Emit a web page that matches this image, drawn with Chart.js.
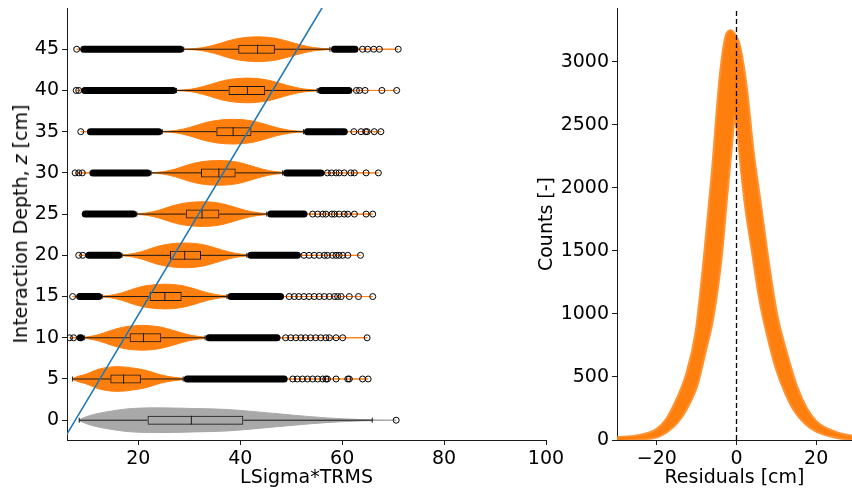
<!DOCTYPE html>
<html lang="en">
<head>
<meta charset="UTF-8" />
<title>LSigma*TRMS vs interaction depth, and residuals</title>
<script src="https://cdn.jsdelivr.net/npm/chart.js"></script>
<style>
  body { margin: 0; background: #fff; width: 852px; height: 490px; overflow: hidden; position: relative; font-family: 'DejaVu Sans', sans-serif; }
  .panel { position: absolute; top: 0; height: 490px; }
  #leftPanel { left: 0; width: 600px; }
  #rightPanel { left: 534px; width: 318px; }
  #depthTitle {
    position: absolute; left: 20px; top: 224px;
    transform: translate(-50%, -50%) rotate(-90deg);
    font-size: 19px; white-space: nowrap; color: #000;
  }
</style>
</head>
<body>
<div class="panel" id="leftPanel"><canvas id="violinChart"></canvas></div>
<div class="panel" id="rightPanel"><canvas id="residualChart"></canvas></div>
<div id="depthTitle">Interaction Depth, <i>z</i> [cm]</div>

<script>
// ---- left panel: box stats per depth (last row = all depths, grey) ----
const boxDepths = [45, 40, 35, 30, 25, 20, 15, 10, 5, 0];
const q1      = [39.6, 37.7, 35.3, 32.3, 29.3, 26.2, 22.2, 18.3, 14.5, 21.8];
const medians = [43.4, 41.4, 38.6, 35.8, 32.5, 29.1, 25.2, 21.0, 17.1, 30.4];
const q3      = [46.8, 44.9, 42.2, 39.1, 35.9, 32.3, 28.5, 24.5, 20.5, 40.6];
const whiskLo = [28.9, 27.5, 24.7, 22.5, 19.7, 16.8, 12.9, 9.4, 7.1, 8.4];
const whiskHi = [57.6, 55.1, 52.4, 48.3, 45.2, 41.3, 37.4, 33.1, 28.8, 65.9];

// orange violins (depths 45..5): kde half-widths sampled around the peak
const violinPeaks = [43.4, 41.4, 38.6, 35.8, 32.5, 29.1, 25.2, 20.8, 15.8];
const violinMin   = [7.9, 7.8, 8.7, 7.6, 8.9, 8.3, 7.1, 6.5, 7.1];
const violinMax   = [71.0, 70.7, 67.6, 67.1, 66.0, 63.6, 66.0, 64.9, 65.1];
const violinOffsets = [-14, -11, -8.5, -6, -3.5, 0, 3.5, 6, 8.5, 11, 14];
const violinWidths = [
  [0.03, 0.17, 0.50, 0.98, 1.33, 1.5, 1.33, 0.95, 0.52, 0.20, 0.05],
  [0.03, 0.16, 0.50, 0.97, 1.33, 1.5, 1.32, 0.94, 0.50, 0.19, 0.05],
  [0.03, 0.17, 0.52, 1.00, 1.34, 1.5, 1.33, 0.95, 0.50, 0.18, 0.04],
  [0.02, 0.14, 0.48, 0.98, 1.34, 1.5, 1.32, 0.92, 0.46, 0.16, 0.04],
  [0.02, 0.13, 0.46, 0.97, 1.33, 1.5, 1.32, 0.92, 0.46, 0.16, 0.04],
  [0.02, 0.12, 0.44, 0.96, 1.33, 1.5, 1.31, 0.90, 0.44, 0.15, 0.04],
  [0.02, 0.12, 0.44, 0.96, 1.33, 1.5, 1.31, 0.90, 0.44, 0.15, 0.04],
  [0.02, 0.10, 0.40, 0.92, 1.32, 1.5, 1.30, 0.90, 0.45, 0.16, 0.04],
  [0.00, 0.00, 0.10, 0.60, 1.20, 1.5, 1.30, 1.00, 0.52, 0.22, 0.06]
];

// grey violin (all depths, z = 0)
const grayX = [8.3, 9.5, 11.2, 14.5, 17.8, 23.7, 30.9, 37.5, 44.0, 50.6, 57.1, 63.7, 70.6];
const grayW = [0.02, 0.35, 0.69, 1.09, 1.37, 1.5, 1.42, 1.3, 0.97, 0.6, 0.28, 0.08, 0];

// outliers: packed runs [from, to] and single circles, per orange depth
const denseLeft = [[8.6, 28.9], [8.8, 27.5], [9.9, 24.7], [10.4, 22.5], [8.9, 19.7], [9.6, 16.8], [7.8, 12.9], [7.9, 9.4], null];
const denseRight = [[57.8, 63.2], [55.2, 62.0], [52.5, 61.1], [48.4, 56.5], [45.3, 53.2], [41.4, 51.9], [37.5, 48.6], [33.2, 47.9], [28.9, 49.3]];
const sparseFliers = [
  [7.9, 64.0, 65.0, 66.2, 67.3, 71.0],
  [7.8, 8.3, 62.8, 63.4, 64.5, 67.8, 70.7],
  [8.7, 62.3, 63.7, 64.6, 64.9, 66.3, 67.6],
  [7.6, 8.3, 9.0, 57.1, 57.9, 58.8, 59.4, 60.4, 61.7, 62.4, 64.7, 67.1],
  [54.2, 55.2, 56.2, 56.8, 58.0, 58.5, 59.4, 60.4, 61.1, 62.4, 64.7, 66.0],
  [8.3, 9.1, 52.5, 53.5, 54.5, 55.5, 56.5, 57.1, 58.1, 58.8, 59.4, 60.1, 61.1, 63.6],
  [7.1, 49.6, 50.6, 51.5, 52.5, 53.5, 54.5, 55.5, 56.5, 57.5, 58.5, 59.1, 59.8, 61.4, 63.2, 66.0],
  [6.5, 7.3, 48.9, 49.9, 50.9, 51.9, 52.8, 53.8, 54.8, 55.8, 56.8, 57.5, 58.8, 60.1, 64.9],
  [50.3, 51.2, 52.2, 53.2, 54.2, 55.2, 56.2, 56.8, 57.1, 58.8, 61.1, 61.4, 64.0, 65.1]
];
const grayFliers = [70.6];

// fitted line
const fitX = [5, 57];
const fitY = [-2.7, 51.0];

const depthTicks = [0, 5, 10, 15, 20, 25, 30, 35, 40, 45];
const lsigmaTicks = [20, 40, 60, 80, 100];

// ---- right panel: envelope of the residual histograms ----
const residualBins = [-30, -25, -20, -17.5, -15, -12.5, -10, -8, -6, -4, -2.5, -1.5, -0.5, 0.5, 1.5, 2.5, 4, 6, 8, 10, 12.5, 15, 17.5, 20, 25, 30];
const countsUpper = [15, 28, 80, 160, 310, 510, 860, 1430, 2100, 2870, 3200, 3240, 3210, 3140, 2980, 2750, 2300, 1840, 1380, 990, 680, 420, 245, 140, 55, 20];
const countsLower = [5, 12, 30, 70, 140, 260, 440, 700, 980, 1440, 1960, 2300, 2580, 2420, 2100, 1830, 1520, 1110, 820, 580, 370, 220, 130, 75, 25, 8];
const residualTicks = [-20, 0, 20];
const countTicks = [0, 500, 1000, 1500, 2000, 2500, 3000];

const ORANGE = '#ff7f0e';
const GRAY = '#a9a9a9';
const BLUE = '#1f77b4';
const INK = '#1a1a1a';
const FONT = 'DejaVu Sans';
const FONT_SIZE = 19;

Chart.defaults.font.family = FONT;
Chart.defaults.color = '#000';

// ---------- left chart datasets ----------
const leftSets = [];

function addViolin(z, xs, ws, color) {
  leftSets.push({
    type: 'line', order: 10,
    data: xs.map((x, i) => ({x, y: z + ws[i]})),
    borderColor: color, backgroundColor: color, borderWidth: 1,
    fill: '+1', pointRadius: 0, cubicInterpolationMode: 'monotone'
  });
  leftSets.push({
    type: 'line', order: 10,
    data: xs.map((x, i) => ({x, y: z - ws[i]})),
    borderColor: color, borderWidth: 1,
    fill: false, pointRadius: 0, cubicInterpolationMode: 'monotone'
  });
}

violinPeaks.forEach((peak, i) => {
  const z = boxDepths[i];
  const xs = [violinMin[i]], ws = [0];
  violinOffsets.forEach((o, k) => {
    const x = peak + o;
    if (x > violinMin[i] + 0.1 && x < violinMax[i]) { xs.push(x); ws.push(violinWidths[i][k]); }
  });
  xs.push(violinMax[i]); ws.push(0);
  addViolin(z, xs, ws, ORANGE);
});
addViolin(0, grayX, grayW, GRAY);

// whiskers: two segments per depth, gaps in between
const whiskerPts = [];
boxDepths.forEach((z, i) => {
  whiskerPts.push({x: whiskLo[i], y: z}, {x: q1[i], y: z}, {x: q1[i], y: null},
                  {x: q3[i], y: z}, {x: whiskHi[i], y: z}, {x: whiskHi[i], y: null});
});
leftSets.push({
  type: 'line', order: 9, data: whiskerPts, spanGaps: false,
  borderColor: INK, borderWidth: 1, pointRadius: 0, fill: false
});

// boxes
leftSets.push({
  type: 'bar', order: 8, indexAxis: 'y', grouped: false, maxBarThickness: 9,
  data: boxDepths.map((z, i) => ({y: z, x: [q1[i], q3[i]]})),
  backgroundColor: 'rgba(0,0,0,0)', borderColor: INK, borderWidth: 1, borderSkipped: false
});

// medians and whisker caps
leftSets.push({
  type: 'scatter', order: 7,
  data: boxDepths.map((z, i) => ({x: medians[i], y: z})),
  pointStyle: 'line', pointRotation: 90, pointRadius: 4.5,
  pointBorderColor: INK, pointBorderWidth: 1
});
const capPts = [];
boxDepths.forEach((z, i) => capPts.push({x: whiskLo[i], y: z}, {x: whiskHi[i], y: z}));
leftSets.push({
  type: 'scatter', order: 7, data: capPts,
  pointStyle: 'line', pointRotation: 90, pointRadius: 2.5,
  pointBorderColor: INK, pointBorderWidth: 1
});

// packed outlier runs
const denseData = [];
boxDepths.slice(0, 9).forEach((z, i) => {
  if (denseLeft[i]) denseData.push({y: z, x: denseLeft[i]});
  if (denseRight[i]) denseData.push({y: z, x: denseRight[i]});
});
leftSets.push({
  type: 'bar', order: 6, indexAxis: 'y', grouped: false, maxBarThickness: 7,
  data: denseData, backgroundColor: '#000', borderWidth: 0,
  borderRadius: 3.5, borderSkipped: false
});

// single outliers
const flierPts = [];
sparseFliers.forEach((row, i) => row.forEach(x => flierPts.push({x, y: boxDepths[i]})));
grayFliers.forEach(x => flierPts.push({x, y: 0}));
leftSets.push({
  type: 'scatter', order: 6, data: flierPts,
  pointStyle: 'circle', pointRadius: 3, pointBorderWidth: 1,
  pointBorderColor: '#000', pointBackgroundColor: 'rgba(0,0,0,0)'
});

// fit line on top
leftSets.push({
  type: 'line', order: 0,
  data: fitX.map((x, i) => ({x, y: fitY[i]})),
  borderColor: BLUE, borderWidth: 1.6, pointRadius: 0, fill: false
});

function axisStyle(ticks, fmt) {
  return {
    type: 'linear',
    offset: false,
    afterBuildTicks: s => { s.ticks = ticks.map(v => ({value: v})); },
    grid: {drawOnChartArea: false, offset: false, tickLength: 5, color: INK, tickWidth: 1},
    border: {color: INK, width: 1},
    ticks: {color: '#000', font: {size: FONT_SIZE}, padding: 3, maxRotation: 0, autoSkip: false,
            callback: fmt || (v => String(v))}
  };
}

function xAxis(ticks, min, max, title, fmt) {
  return Object.assign(axisStyle(ticks, fmt), {
    min, max,
    afterFit: s => { s.height = 50; s.paddingLeft = 0; s.paddingRight = 0; },
    title: {display: true, text: title, color: '#000', font: {size: FONT_SIZE}, padding: {top: 0, bottom: 1}}
  });
}

function yAxis(ticks, min, max, width, title) {
  const ax = Object.assign(axisStyle(ticks), {
    min, max,
    afterFit: s => { s.width = width; s.paddingTop = 0; s.paddingBottom = 0; }
  });
  if (title) ax.title = {display: true, text: title, color: '#000', font: {size: FONT_SIZE}, padding: {top: 2, bottom: 2}};
  return ax;
}

const common = {
  responsive: true,
  maintainAspectRatio: false,
  animation: false,
  devicePixelRatio: 1,
  events: [],
  plugins: {legend: {display: false}, tooltip: {enabled: false}}
};

new Chart(document.getElementById('violinChart'), {
  type: 'scatter',
  data: {datasets: leftSets},
  options: Object.assign({}, common, {
    layout: {padding: {top: 8, right: 54, left: 0, bottom: 0}},
    scales: {
      x: xAxis(lsigmaTicks, 6, 100, 'LSigma*TRMS'),
      y: yAxis(depthTicks, -2.4, 50, 67)
    }
  })
});

// ---------- right chart ----------
new Chart(document.getElementById('residualChart'), {
  type: 'scatter',
  data: {
    datasets: [
      {
        type: 'line', order: 0,
        data: [{x: 0, y: 0}, {x: 0, y: 3425}],
        borderColor: '#000', borderWidth: 1.3, borderDash: [5, 3], pointRadius: 0, fill: false
      },
      {
        type: 'line', order: 5,
        data: residualBins.map((x, i) => ({x, y: countsUpper[i]})),
        borderColor: 'rgba(255,127,14,0.85)', backgroundColor: ORANGE, borderWidth: 4,
        fill: '+1', pointRadius: 0, cubicInterpolationMode: 'monotone'
      },
      {
        type: 'line', order: 5,
        data: residualBins.map((x, i) => ({x, y: countsLower[i]})),
        borderColor: 'rgba(255,127,14,0.85)', borderWidth: 4,
        fill: false, pointRadius: 0, cubicInterpolationMode: 'monotone'
      }
    ]
  },
  options: Object.assign({}, common, {
    layout: {padding: {top: 8, right: 0, left: 0, bottom: 0}},
    scales: {
      x: xAxis(residualTicks, -30, 29, 'Residuals [cm]', v => String(v).replace('-', '\u2212')),
      y: yAxis(countTicks, 0, 3425, 83, 'Counts [-]')
    }
  })
});
</script>
</body>
</html>
